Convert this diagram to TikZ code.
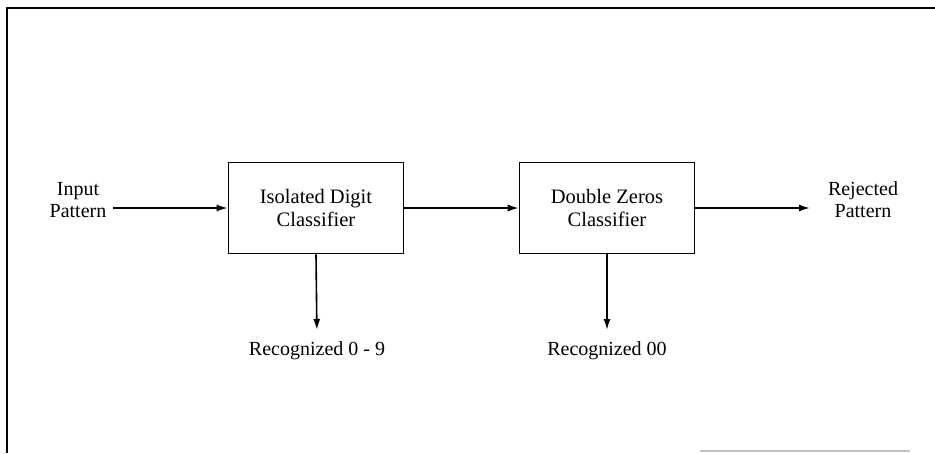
\documentclass[tikz,border=0pt]{standalone}
\usepackage{fontspec}
\setmainfont{Liberation Serif}
\usetikzlibrary{arrows.meta}
\begin{document}
\begin{tikzpicture}[x=1pt,y=-1pt,
  box/.style={draw, line width=1.6pt, minimum width=175pt, minimum height=91pt, inner sep=0pt, align=center, font=\fontsize{20.5}{23}\selectfont},
  lbl/.style={align=center, inner sep=0pt, font=\fontsize{20}{22}\selectfont},
  conn/.style={line width=1.6pt, -{Latex[length=11pt,width=7pt]}}]
\useasboundingbox (0,0) rectangle (935,453);
\draw[line width=1.8pt] (935,8) -- (7,8) -- (7,453);
\draw[line width=1.5pt, gray!50] (700,451) -- (910,451);
\node[box] (b1) at (316,208) {Isolated Digit\\Classifier};
\node[box] (b2) at (607,208) {Double Zeros\\Classifier};
\node[lbl] (in) at (78,200) {Input\\Pattern};
\node[lbl] (out) at (863,200) {Rejected\\Pattern};
\node[lbl, anchor=north] (r1) at (317,341) {Recognized 0 - 9};
\node[lbl, anchor=north] (r2) at (607,341) {Recognized 00};
\coordinate (s) at (113,208);
\coordinate (e) at (810,208);
\draw[conn] (s) -- (b1.west);
\draw[conn] (b1.east) -- (b2.west);
\draw[conn] (b2.east) -- (e);
\draw[conn, shorten >=11pt] (b1.south) -- (r1.north);
\draw[conn, shorten >=11pt] (b2.south) -- (r2.north);
\end{tikzpicture}
\end{document}
